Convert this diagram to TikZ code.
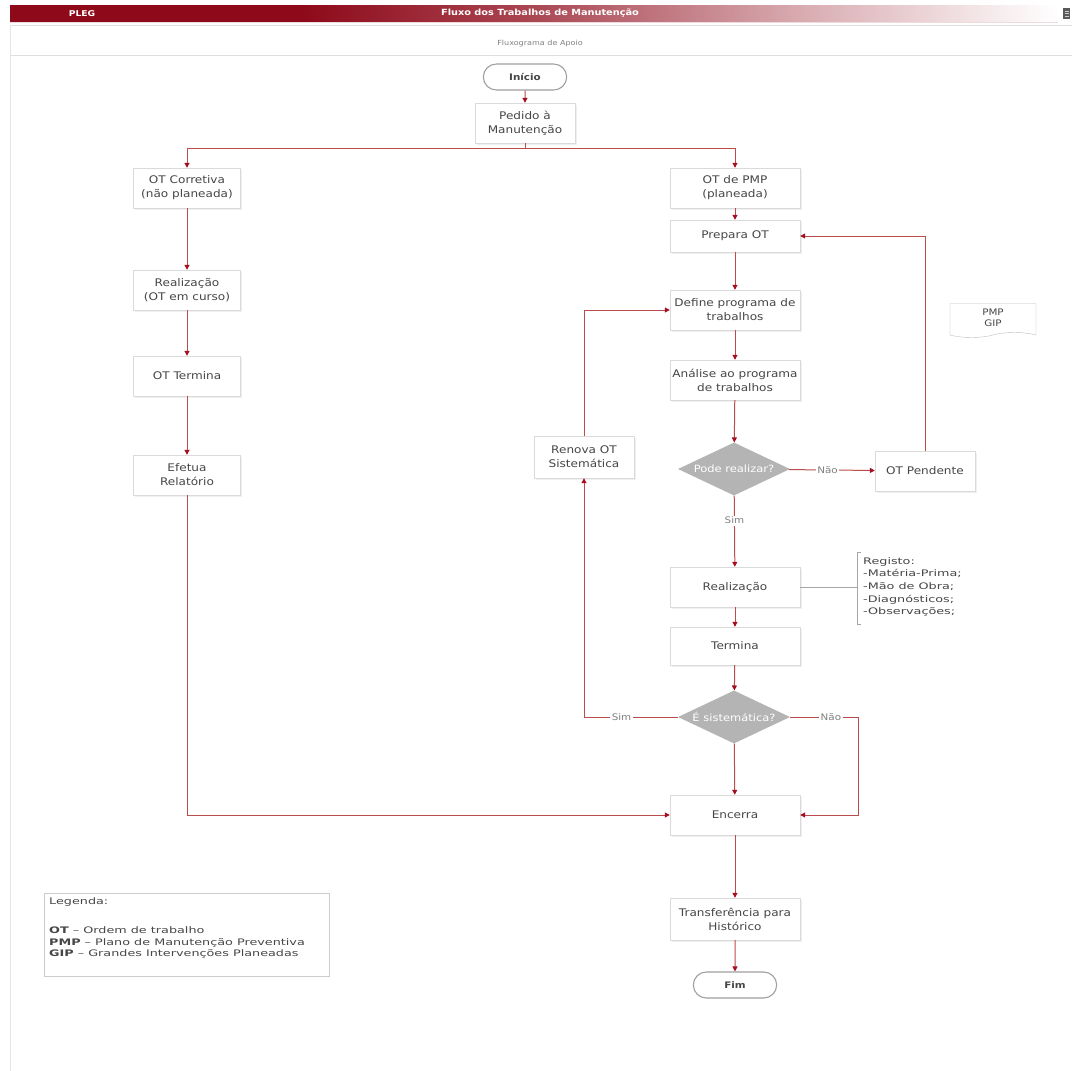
\documentclass[tikz,border=0pt]{standalone}
\usepackage{fontspec}
\setmainfont[FakeStretch=1.15]{DejaVu Sans}
\newfontfamily\widefont[FakeStretch=1.42]{DejaVu Sans}
\usetikzlibrary{arrows.meta,shapes.geometric,shapes.misc,shapes.symbols,shadows}
\definecolor{hdrred}{RGB}{142,10,26}
\definecolor{linkred}{RGB}{186,76,76}
\definecolor{tipred}{RGB}{165,14,32}
\definecolor{boxedge}{RGB}{218,218,218}
\definecolor{decgray}{RGB}{180,180,180}
\definecolor{txt}{RGB}{70,70,70}
% the visible part of an axis shading runs from 25bp to 75bp
\pgfdeclarehorizontalshading{hdrshade}{100bp}{%
  color(0bp)=(hdrred); color(25bp)=(hdrred); color(39bp)=(hdrred);
  color(50bp)=(hdrred!75!white); color(62.5bp)=(hdrred!35!white);
  color(72bp)=(hdrred!8!white); color(75bp)=(white); color(100bp)=(white)}
\begin{document}
\begin{tikzpicture}[x=1pt,y=-1pt,
  every node/.style={font=\fontsize{10.5}{14}\selectfont, text=txt},
  procbox/.style={rectangle, draw=boxedge, fill=white, align=center,
    minimum width=130pt, minimum height=40pt, inner sep=1pt,
    drop shadow={opacity=0.12, shadow xshift=1.5pt, shadow yshift=-1.5pt}},
  narrowbox/.style={procbox, minimum width=107pt},
  termbox/.style={rounded rectangle, draw=gray!75, line width=1.1pt, fill=white,
    minimum width=90pt, minimum height=26pt, font=\bfseries\fontsize{9}{11}\selectfont},
  decision/.style={diamond, fill=decgray, draw=none, aspect=2.1,
    minimum width=112pt, minimum height=53pt},
  decisiontext/.style={text=white, font=\fontsize{10}{12}\selectfont},
  link/.style={draw=linkred, line width=1pt},
  arr/.style={link, -{Triangle[length=5pt,width=5pt,fill=tipred,color=tipred]}},
  branch/.style={fill=white, inner sep=1.5pt, text=gray, font=\fontsize{9}{10}\selectfont}
]
\useasboundingbox (0,0) rectangle (1072,1071);
\fill[white] (0,0) rectangle (1072,1071);

% title bar
\shade[shading=hdrshade] (10,5) rectangle (1058,22);
\draw[hdrred!15!white, line width=1pt] (10,22.5) -- (1058,22.5);
\node[font=\bfseries\fontsize{8}{9}\selectfont, text=white] (pleg) at (82,13.5) {PLEG};
\node[font=\bfseries\fontsize{8.5}{9}\selectfont, text=white] (ttl) at (540,13.5) {Fluxo dos Trabalhos de Manutenção};
\fill[gray!70!black] (1063,8) rectangle (1070,19);
\draw[gray!40] (1064.5,11) -- (1068.5,11) (1064.5,13.5) -- (1068.5,13.5) (1064.5,16) -- (1068.5,16);

% subtitle strip and page edge
\draw[gray!25] (10,25) -- (1072,25) (10,55) -- (1072,55);
\draw[gray!20] (10,25) -- (10,1071);
\node[font=\fontsize{7}{8}\selectfont, text=gray] (sub) at (540,44) {Fluxograma de Apoio};

% nodes
\node[termbox] (ini) at (525,77) {Início};
\node[procbox, minimum width=100pt] (ped) at (525,123) {Pedido à\\Manutenção};

\node[narrowbox] (corr) at (187,188) {OT Corretiva\\(não planeada)};
\node[narrowbox] (real1) at (187,290) {Realização\\(OT em curso)};
\node[narrowbox] (term1) at (187,376) {OT Termina};
\node[narrowbox] (rel) at (187,475) {Efetua\\Relatório};

\node[procbox] (pmp) at (735,188) {OT de PMP\\(planeada)};
\node[procbox, minimum height=32pt] (prep) at (735,236) {Prepara OT};
\node[procbox] (def) at (735,310) {Define programa de\\trabalhos};
\node[procbox] (anal) at (735,380) {Análise ao programa\\de trabalhos};
\node[decision, label={[decisiontext]center:Pode realizar?}] (d1) at (734,469) {};
\node[procbox, minimum width=100pt] (pend) at (925,471) {OT Pendente};
\node[procbox, minimum width=100pt, minimum height=42pt] (ren) at (584,457) {Renova OT\\Sistemática};
\node[procbox] (real2) at (735,587) {Realização};
\node[procbox, minimum height=38pt] (term2) at (735,646) {Termina};
\node[decision, label={[decisiontext]center:É sistemática?}] (d2) at (734,717) {};
\node[procbox] (enc) at (735,815) {Encerra};
\node[procbox, minimum height=42pt] (trans) at (735,919) {Transferência para\\Histórico};
\node[termbox] (fim) at (735,985) {Fim};

\node[tape, tape bend top=none, draw=gray!50, fill=white, minimum width=86pt,
  minimum height=34pt, align=center, font=\fontsize{9}{11}\selectfont] (doc) at (993,318) {PMP\\GIP};

% register list
\node[anchor=west, align=left, inner sep=0pt, font=\widefont\fontsize{9}{12.7}\selectfont] (reg) at (863,587)
  {Registo:\\-Matéria-Prima;\\-Mão de Obra;\\-Diagnósticos;\\-Observações;};
\coordinate (brk) at (857,587);
\draw[gray!70, line width=0.8pt] (861,552) -- (857,552) -- (857,624) -- (861,624);
\draw[gray!70, line width=0.8pt] (real2.east) -- (brk);

% legend: frame and its text
\node[draw=gray!40, anchor=north west, minimum width=285pt, minimum height=83pt,
  inner sep=0pt] (leg) at (44,893) {};
\node[anchor=north west, align=left, inner sep=0pt,
  font=\widefont\fontsize{9}{11.5}\selectfont, text=txt] (legtxt) at (49,897)
  {Legenda:\\[18pt]\textbf{OT} – Ordem de trabalho\\\textbf{PMP} – Plano de Manutenção Preventiva\\\textbf{GIP} – Grandes Intervenções Planeadas};

% connectors
\draw[arr] (ini) -- (ped);
\draw[arr] (ped.south) -- ++(0,5) -| (corr.north);
\draw[arr] (ped.south) -- ++(0,5) -| (pmp.north);
\draw[arr] (corr) -- (real1);
\draw[arr] (real1) -- (term1);
\draw[arr] (term1) -- (rel);
\draw[arr] (rel.south) |- (enc.west);

\draw[arr] (pmp) -- (prep);
\draw[arr] (prep) -- (def);
\draw[arr] (def) -- (anal);
\draw[arr] (anal) -- (d1);
\draw[arr] (d1) -- node[branch, pos=0.45] {Não} (pend);
\draw[arr] (pend.north) |- (prep.east);
\draw[arr] (d1) -- node[branch, pos=0.35] {Sim} (real2);
\draw[arr] (real2) -- (term2);
\draw[arr] (term2) -- (d2);
\draw[arr] (d2) -- (enc);
\draw[arr] (d2.west) -- node[branch, pos=0.6] {Sim} (584,717) -- (ren.south);
\draw[arr] (ren.north) |- (def.west);
\draw[arr] (d2.east) -- node[branch, pos=0.6] {Não} (858,717) |- (enc.east);
\draw[arr] (enc) -- (trans);
\draw[arr] (trans) -- (fim);
\end{tikzpicture}
\end{document}
